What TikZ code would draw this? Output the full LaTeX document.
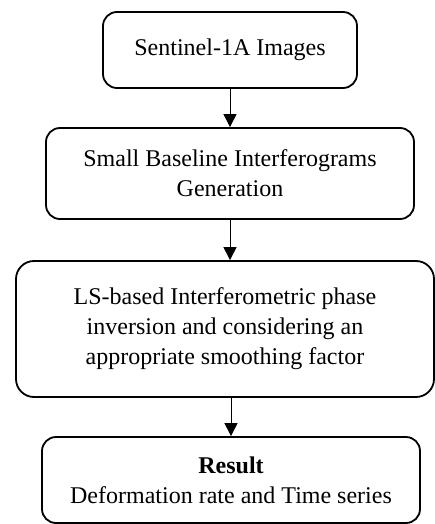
\documentclass[tikz,border=0pt]{standalone}
\usepackage{fontspec}
\setmainfont{Liberation Serif}
\usepackage{tikz}
\usetikzlibrary{arrows.meta, calc}

\begin{document}
\begin{tikzpicture}[x=1pt, y=-1pt, every node/.style={draw, line width=1.8pt, rounded corners=14pt, align=center, inner sep=0pt, font=\fontsize{24}{30}\selectfont}]
    \useasboundingbox (0,0) rectangle (435,524);

    % step boxes
    \node (img) at (230,50) [minimum width=254pt, minimum height=76pt] {Sentinel-1A Images};
    \node (ifg) at (230,173.5) [minimum width=368pt, minimum height=91pt] {Small Baseline Interferograms\\Generation};
    \node (inv) at (225,329) [minimum width=418pt, minimum height=136pt, rounded corners=18pt] {LS-based Interferometric phase\\inversion and considering an\\appropriate smoothing factor};
    \node (res) at (231,480) [minimum width=378pt, minimum height=86pt] {\textbf{Result}\\Deformation rate and Time series};

    % arrows
    \draw[-{Triangle[length=13pt, width=13pt]}, line width=1pt] (img) -- (ifg);
    \draw[-{Triangle[length=13pt, width=13pt]}, line width=1pt] (ifg) -- (ifg |- inv.north);
    \draw[-{Triangle[length=13pt, width=13pt]}, line width=1pt] (res |- inv.south) -- (res);
\end{tikzpicture}
\end{document}
